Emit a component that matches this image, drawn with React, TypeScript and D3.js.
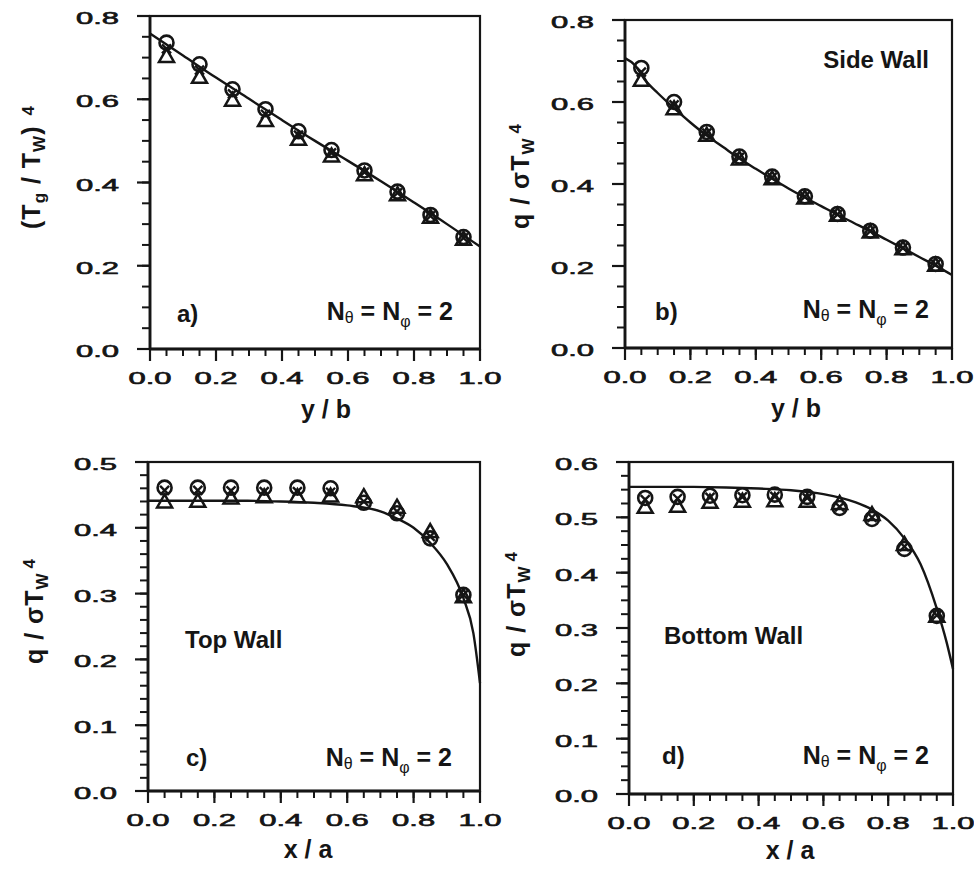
import React from "react";
import * as d3 from "d3";

const xMarks = [0.05, 0.15, 0.25, 0.35, 0.45, 0.55, 0.65, 0.75, 0.85, 0.95];
const xTicks = [0, 0.2, 0.4, 0.6, 0.8, 1.0];

// a) gas temperature profile
const aCircle = [0.736, 0.684, 0.624, 0.576, 0.523, 0.478, 0.429, 0.378, 0.322, 0.269];
const aCross = [0.721, 0.670, 0.613, 0.564, 0.514, 0.471, 0.425, 0.375, 0.320, 0.267];
const aTriangle = [0.704, 0.654, 0.599, 0.550, 0.505, 0.465, 0.420, 0.372, 0.318, 0.265];
const aLineX = [0, 0.1, 0.2, 0.3, 0.4, 0.5, 0.6, 0.7, 0.8, 0.9, 1.0];
const aLineY = [0.758, 0.705, 0.652, 0.601, 0.55, 0.5, 0.452, 0.403, 0.352, 0.3, 0.246];
const aYTicks = [0, 0.2, 0.4, 0.6, 0.8];

// b) side wall flux
const bCircle = [0.683, 0.600, 0.527, 0.467, 0.418, 0.370, 0.327, 0.286, 0.245, 0.205];
const bCross = [0.673, 0.593, 0.524, 0.465, 0.416, 0.369, 0.326, 0.285, 0.244, 0.204];
const bTriangle = [0.654, 0.585, 0.520, 0.462, 0.414, 0.367, 0.325, 0.284, 0.243, 0.203];
const bLineX = [0, 0.03, 0.06, 0.1, 0.15, 0.2, 0.25, 0.3, 0.35, 0.4, 0.45, 0.5, 0.55, 0.6, 0.65, 0.7, 0.75, 0.8, 0.85, 0.9, 0.95, 1.0];
const bLineY = [0.707, 0.69, 0.655, 0.622, 0.585, 0.55, 0.518, 0.49, 0.462, 0.437, 0.413, 0.389, 0.367, 0.346, 0.325, 0.305, 0.285, 0.264, 0.243, 0.222, 0.201, 0.178];
const bYTicks = [0, 0.2, 0.4, 0.6, 0.8];

// c) top wall flux
const cCircle = [0.461, 0.461, 0.461, 0.461, 0.461, 0.460, 0.438, 0.422, 0.384, 0.298];
const cCross = [0.457, 0.457, 0.456, 0.455, 0.455, 0.454, 0.440, 0.425, 0.387, 0.298];
const cTriangle = [0.440, 0.441, 0.446, 0.448, 0.448, 0.449, 0.448, 0.432, 0.395, 0.296];
const cLineX = [0, 0.1, 0.2, 0.3, 0.4, 0.5, 0.6, 0.7, 0.75, 0.8, 0.85, 0.9, 0.95, 0.98, 1.0];
const cLineY = [0.441, 0.441, 0.441, 0.441, 0.44, 0.438, 0.434, 0.425, 0.414, 0.4, 0.377, 0.345, 0.293, 0.24, 0.164];
const cYTicks = [0, 0.1, 0.2, 0.3, 0.4, 0.5];

// d) bottom wall flux
const dCircle = [0.535, 0.537, 0.539, 0.540, 0.541, 0.537, 0.517, 0.497, 0.443, 0.322];
const dCross = [0.532, 0.534, 0.536, 0.537, 0.538, 0.535, 0.519, 0.500, 0.447, 0.323];
const dTriangle = [0.519, 0.521, 0.528, 0.530, 0.531, 0.530, 0.526, 0.506, 0.452, 0.322];
const dLineX = [0, 0.1, 0.2, 0.3, 0.4, 0.5, 0.6, 0.7, 0.75, 0.8, 0.85, 0.9, 0.95, 0.98, 1.0];
const dLineY = [0.555, 0.555, 0.555, 0.554, 0.552, 0.549, 0.542, 0.527, 0.514, 0.494, 0.462, 0.415, 0.335, 0.275, 0.226];
const dYTicks = [0, 0.1, 0.2, 0.3, 0.4, 0.5, 0.6];

const FONT = "'Liberation Sans', Arial, Helvetica, sans-serif";
const INK = "#151515";
const fmt = d3.format(".1f");

const panels = [
  {
    id: "a", left: 150, right: 480, top: 16, bottom: 349, yMax: 0.8, yMinor: 0.05,
    yTicks: aYTicks, circle: aCircle, cross: aCross, tri: aTriangle, lineX: aLineX, lineY: aLineY,
    xLabel: "y / b", xLabelX: 326, xLabelY: 418, yLabelX: 40, yLabelY: 167, yLabel: "T",
    tag: "a)", tagX: 177, tagY: 322, nRight: 453, nY: 320,
  },
  {
    id: "b", left: 625, right: 952, top: 20, bottom: 348, yMax: 0.8, yMinor: 0.05,
    yTicks: bYTicks, circle: bCircle, cross: bCross, tri: bTriangle, lineX: bLineX, lineY: bLineY,
    xLabel: "y / b", xLabelX: 796, xLabelY: 417, yLabelX: 529, yLabelY: 176, yLabel: "q",
    tag: "b)", tagX: 655, tagY: 320, nRight: 929, nY: 318,
    title: "Side Wall", titleX: 929, titleY: 68, titleAnchor: "end",
  },
  {
    id: "c", left: 148, right: 480, top: 462, bottom: 791, yMax: 0.5, yMinor: 0.02,
    yTicks: cYTicks, circle: cCircle, cross: cCross, tri: cTriangle, lineX: cLineX, lineY: cLineY,
    xLabel: "x / a", xLabelX: 308, xLabelY: 858, yLabelX: 43, yLabelY: 611, yLabel: "q",
    tag: "c)", tagX: 186, tagY: 766, nRight: 452, nY: 766,
    title: "Top Wall", titleX: 185, titleY: 648, titleAnchor: "start",
  },
  {
    id: "d", left: 629, right: 953, top: 462, bottom: 794, yMax: 0.6, yMinor: 0.025,
    yTicks: dYTicks, circle: dCircle, cross: dCross, tri: dTriangle, lineX: dLineX, lineY: dLineY,
    xLabel: "x / a", xLabelX: 790, xLabelY: 859, yLabelX: 525, yLabelY: 604, yLabel: "q",
    tag: "d)", tagX: 662, tagY: 764, nRight: 929, nY: 764,
    title: "Bottom Wall", titleX: 664, titleY: 644, titleAnchor: "start",
  },
];

const Panel = ({ p }) => {
  const x = d3.scaleLinear().domain([0, 1]).range([p.left, p.right]);
  const y = d3.scaleLinear().domain([0, p.yMax]).range([p.bottom, p.top]);
  const line = d3
    .line()
    .x((d, i) => x(p.lineX[i]))
    .y((d) => y(d))
    .curve(d3.curveMonotoneX);
  const xMinor = d3.range(0, 1.0001, 0.05);
  const yMinor = d3.range(0, p.yMax + 1e-6, p.yMinor);
  const labelRight = p.left - 31;

  return (
    <g>
      {/* ticks */}
      {xMinor.map((t, i) => (
        <line key={"xm" + i} x1={x(t)} x2={x(t)} y1={p.bottom} y2={p.bottom + 7} stroke={INK} strokeWidth={2} />
      ))}
      {xTicks.map((t, i) => (
        <line key={"xM" + i} x1={x(t)} x2={x(t)} y1={p.bottom} y2={p.bottom + 12} stroke={INK} strokeWidth={2.2} />
      ))}
      {yMinor.map((t, i) => (
        <line key={"ym" + i} x1={p.left - 8} x2={p.left} y1={y(t)} y2={y(t)} stroke={INK} strokeWidth={2} />
      ))}
      {p.yTicks.map((t, i) => (
        <line key={"yM" + i} x1={p.left - 13} x2={p.left} y1={y(t)} y2={y(t)} stroke={INK} strokeWidth={2.2} />
      ))}
      {/* tick labels */}
      {xTicks.map((t, i) => (
        <text key={"xl" + i} x={x(t)} y={p.bottom + 35} textAnchor="middle" fontFamily={FONT} fontSize={16}
          textLength={43} lengthAdjust="spacingAndGlyphs" fill={INK} stroke={INK} strokeWidth={0.6}>
          {fmt(t)}
        </text>
      ))}
      {p.yTicks.map((t, i) => (
        <text key={"yl" + i} x={labelRight} y={y(t) + 8} textAnchor="end" fontFamily={FONT} fontSize={16}
          textLength={43} lengthAdjust="spacingAndGlyphs" fill={INK} stroke={INK} strokeWidth={0.6}>
          {fmt(t)}
        </text>
      ))}
      {/* frame */}
      <rect x={p.left} y={p.top} width={p.right - p.left} height={p.bottom - p.top} fill="none" stroke={INK} strokeWidth={2.2} />
      <line x1={p.left} x2={p.right} y1={p.bottom} y2={p.bottom} stroke={INK} strokeWidth={3.2} />
      <line x1={p.left} x2={p.left} y1={p.top} y2={p.bottom} stroke={INK} strokeWidth={2.8} />
      {/* solution curve */}
      <path d={line(p.lineY)} fill="none" stroke={INK} strokeWidth={2.4} />
      {/* markers */}
      {xMarks.map((v, i) => (
        <circle key={"c" + i} cx={x(v)} cy={y(p.circle[i])} r={7} fill="none" stroke={INK} strokeWidth={2.6} />
      ))}
      {xMarks.map((v, i) => {
        const cx = x(v), cy = y(p.cross[i]);
        return (
          <path key={"x" + i} d={`M${cx - 4.5},${cy - 4.5}L${cx + 4.5},${cy + 4.5}M${cx - 4.5},${cy + 4.5}L${cx + 4.5},${cy - 4.5}`}
            stroke={INK} strokeWidth={2.4} fill="none" />
        );
      })}
      {xMarks.map((v, i) => {
        const cx = x(v), cy = y(p.tri[i]);
        return (
          <path key={"t" + i} d={`M${cx},${cy - 7}L${cx + 7.5},${cy + 6}L${cx - 7.5},${cy + 6}Z`}
            stroke={INK} strokeWidth={2.5} fill="none" strokeLinejoin="miter" />
        );
      })}
      {/* axis titles */}
      <text x={p.xLabelX} y={p.xLabelY} textAnchor="middle" fontFamily={FONT} fontWeight="bold" fontSize={25} fill={INK}>
        {p.xLabel}
      </text>
      <g transform={`translate(${p.yLabelX},${p.yLabelY}) rotate(-90)`}>
        {p.yLabel === "T" ? (
          <text textAnchor="middle" fontFamily={FONT} fontWeight="bold" fontSize={25} fill={INK} letterSpacing={1}>
            (T<tspan fontSize={17} dy={5}>g</tspan>
            <tspan dy={-5}> / T</tspan>
            <tspan fontSize={17} dy={5}>W</tspan>
            <tspan dy={-5}>)</tspan>
            <tspan fontSize={17} dy={-6} dx={10}>4</tspan>
          </text>
        ) : (
          <text textAnchor="middle" fontFamily={FONT} fontWeight="bold" fontSize={25} fill={INK} letterSpacing={1}>
            q / σT<tspan fontSize={17} dy={5}>W</tspan>
            <tspan fontSize={17} dy={-13} dx={4}>4</tspan>
          </text>
        )}
      </g>
      {/* annotations */}
      <text x={p.tagX} y={p.tagY} fontFamily={FONT} fontWeight="bold" fontSize={24} fill={INK}>
        {p.tag}
      </text>
      <text x={p.nRight} y={p.nY} textAnchor="end" fontFamily={FONT} fontWeight="bold" fontSize={25} fill={INK}>
        N<tspan fontSize={16} fontWeight="normal" dy={3}>θ</tspan>
        <tspan dy={-3}> = N</tspan>
        <tspan fontSize={16} fontWeight="normal" dy={7}>φ</tspan>
        <tspan dy={-7}> = 2</tspan>
      </text>
      {p.title && (
        <text x={p.titleX} y={p.titleY} textAnchor={p.titleAnchor} fontFamily={FONT} fontWeight="bold" fontSize={24} fill={INK}>
          {p.title}
        </text>
      )}
    </g>
  );
};

export default function App() {
  return (
    <svg width={974} height={872} style={{ position: "absolute", left: 0, top: 0, background: "#fff" }}>
      <rect width={974} height={872} fill="#fff" />
      {panels.map((p) => (
        <Panel key={p.id} p={p} />
      ))}
    </svg>
  );
}
